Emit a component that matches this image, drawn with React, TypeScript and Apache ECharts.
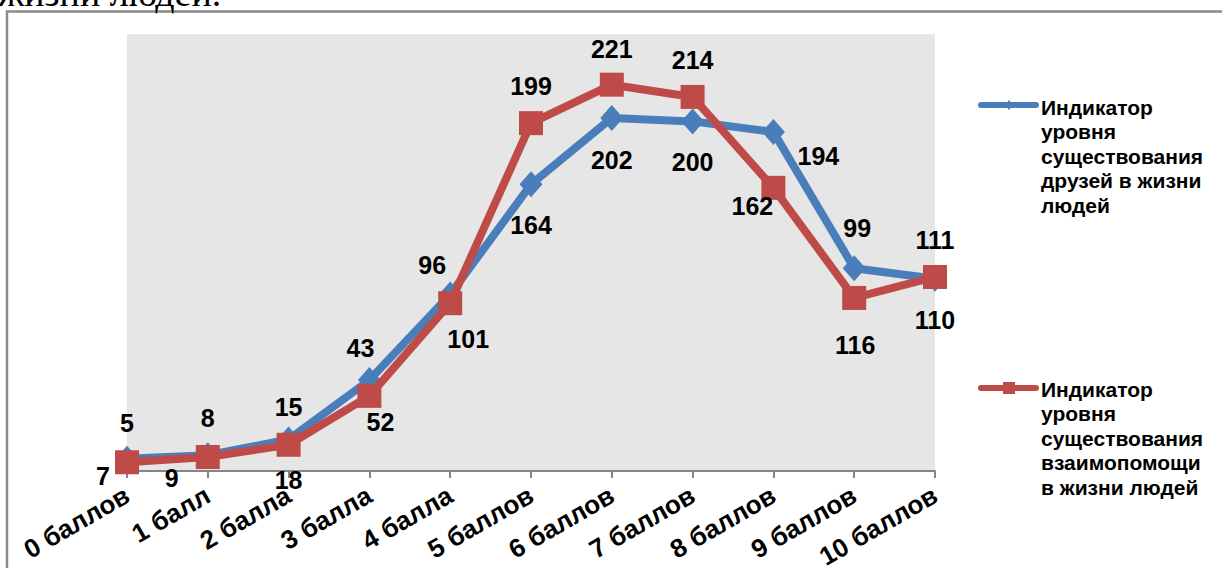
import React, { useEffect, useRef } from "react";
import * as echarts from "echarts";

const categories = ["0 баллов", "1 балл", "2 балла", "3 балла", "4 балла", "5 баллов", "6 баллов", "7 баллов", "8 баллов", "9 баллов", "10 баллов"];
const seriesNames = [
  "Индикатор\nуровня\nсуществования\nдрузей в жизни\nлюдей",
  "Индикатор\nуровня\nсуществования\nвзаимопомощи\nв жизни людей",
];
const friendsValues = [7, 9, 18, 52, 101, 164, 202, 200, 194, 116, 110];
const helpValues = [5, 8, 15, 43, 96, 199, 221, 214, 162, 99, 111];
const titleText = "жизни людей.";

// label offsets from each point (pixels), positions only
const friendsLabelOffsets: [number, number][] = [
  [-24, 17], [-36, 23], [0, 40], [11, 42], [18, 45], [0, 41], [0, 42], [0, 41], [45, 24], [1, 77], [0, 41],
];
const helpLabelOffsets: [number, number][] = [
  [0, -39], [0, -39], [0, -38], [-9, -48], [-18, -38], [0, -37], [0, -36], [0, -37], [-21, 18], [3, -70], [0, -37],
];

const BLUE = "#4a7ebb";
const RED = "#be4b48";
const FONT = "'Liberation Sans', Arial, sans-serif";

export default function App() {
  const ref = useRef<HTMLDivElement>(null);
  useEffect(() => {
    if (!ref.current) return;
    const chart = echarts.init(ref.current, undefined, { renderer: "svg" });
    const labelStyle = {
      show: true,
      position: "inside" as const,
      color: "#000",
      fontFamily: FONT,
      fontWeight: "bold" as const,
      fontSize: 25,
    };
    const mk = (vals: number[], offs: [number, number][]) =>
      vals.map((v, i) => ({ value: v, label: { ...labelStyle, offset: offs[i] } }));

    chart.setOption({
      animation: false,
      backgroundColor: "#fff",
      grid: {
        left: 127,
        right: 287,
        top: 34,
        bottom: 97,
        show: true,
        backgroundColor: "#e6e6e6",
        borderWidth: 0,
        containLabel: false,
        outerBoundsMode: "none",
      },
      xAxis: {
        type: "category",
        data: categories,
        boundaryGap: false,
        axisLine: { show: true, lineStyle: { color: "#868686", width: 2 } },
        axisTick: { show: true, length: 7, lineStyle: { color: "#868686", width: 2 } },
        axisLabel: {
          rotate: 30,
          interval: 0,
          margin: 22,
          color: "#000",
          fontFamily: FONT,
          fontWeight: "bold",
          fontSize: 26,
        },
        splitLine: { show: false },
      },
      yAxis: {
        type: "value",
        min: 0,
        max: 250,
        show: false,
        splitLine: { show: false },
      },
      series: [
        {
          name: seriesNames[0],
          type: "line",
          data: mk(friendsValues, friendsLabelOffsets),
          symbol: "diamond",
          symbolSize: [23, 26],
          itemStyle: { color: BLUE },
          lineStyle: { color: BLUE, width: 8, cap: "round", join: "round" },
          z: 2,
        },
        {
          name: seriesNames[1],
          type: "line",
          data: mk(helpValues, helpLabelOffsets),
          symbol: "rect",
          symbolSize: 24,
          itemStyle: { color: RED },
          lineStyle: { color: RED, width: 8, cap: "round", join: "round" },
          z: 3,
        },
      ],
      graphic: [
        {
          type: "polyline",
          shape: { points: [[7, 620], [7, 11.5], [1240, 11.5]] },
          style: { stroke: "#8a8a8a", lineWidth: 2.5, fill: "none" },
          silent: true,
        },
        {
          type: "text",
          x: -2,
          y: 12,
          style: {
            text: titleText,
            fill: "#000",
            font: "38px 'Liberation Serif', 'Times New Roman', serif",
            verticalAlign: "bottom",
            align: "left",
          },
          silent: true,
        },
        // legend item 1
        {
          type: "line",
          shape: { x1: 981, y1: 105, x2: 1036, y2: 105 },
          style: { stroke: BLUE, lineWidth: 6, lineCap: "round" },
        },
        {
          type: "polygon",
          shape: { points: [[1009, 100], [1013, 105], [1009, 110], [1005, 105]] },
          style: { fill: BLUE },
        },
        {
          type: "text",
          x: 1041,
          y: 95,
          style: {
            text: seriesNames[0],
            fill: "#000",
            font: "bold 21px 'Liberation Sans', Arial, sans-serif",
            lineHeight: 24.5,
            verticalAlign: "top",
            align: "left",
          },
        },
        // legend item 2
        {
          type: "line",
          shape: { x1: 981, y1: 388, x2: 1036, y2: 388 },
          style: { stroke: RED, lineWidth: 6, lineCap: "round" },
        },
        {
          type: "rect",
          shape: { x: 1003, y: 382, width: 12, height: 12 },
          style: { fill: RED },
        },
        {
          type: "text",
          x: 1041,
          y: 377,
          style: {
            text: seriesNames[1],
            fill: "#000",
            font: "bold 21px 'Liberation Sans', Arial, sans-serif",
            lineHeight: 24.5,
            verticalAlign: "top",
            align: "left",
          },
        },
      ],
    });
    return () => chart.dispose();
  }, []);
  return (
    <div
      ref={ref}
      style={{ position: "absolute", left: 0, top: 0, width: 1222, height: 568 }}
    />
  );
}
